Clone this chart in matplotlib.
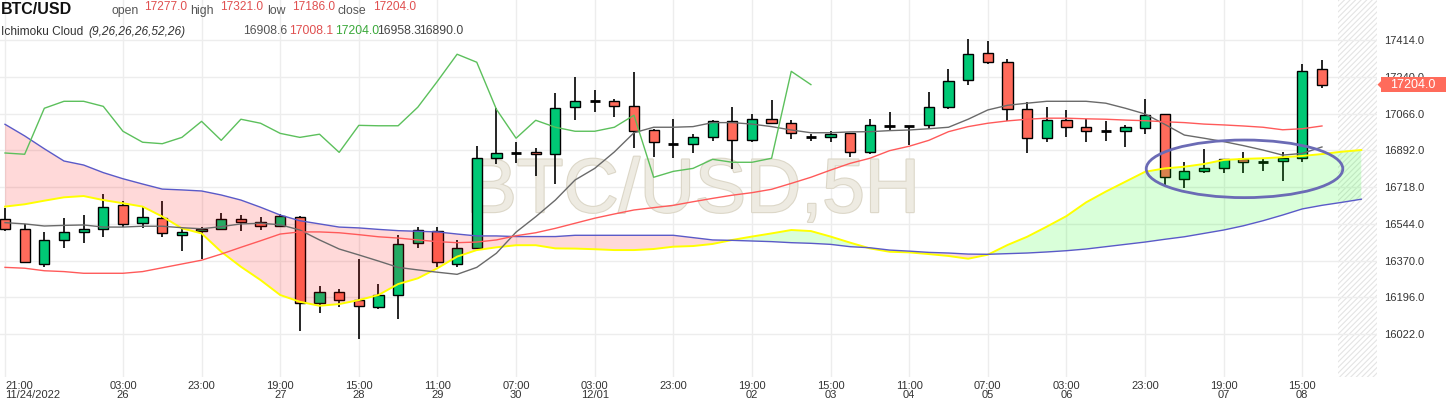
import numpy as np
import matplotlib
matplotlib.use("Agg")
import matplotlib.pyplot as plt
from matplotlib.patches import Ellipse, Rectangle, Polygon
import matplotlib.patheffects as pe

plt.rcParams['font.family'] = ['Liberation Sans', 'DejaVu Sans']
plt.rcParams['hatch.linewidth'] = 0.8

# ---------------- data ----------------
open_ = [16566, 16518, 16353, 16466, 16504, 16518, 16632, 16547, 16571, 16490,
         16509, 16518, 16566, 16552, 16533, 16575, 16168, 16220, 16183, 16149,
         16206, 16452, 16509, 16353, 16428, 16855, 16880, 16883, 16874, 17097,
         17125, 17125, 17101, 16988, 16924, 16921, 16954, 17030, 16940, 17040,
         17021, 16954, 16954, 16973, 16883, 17009, 17009, 17011, 17097, 17225,
         17352, 17310, 17087, 16950, 17035, 17002, 16983, 16983, 16997, 17063,
         16755, 16793, 16807, 16850, 16836, 16841, 16855, 17277]
high = [16621, 16544, 16507, 16571, 16585, 16687, 16654, 16626, 16652, 16531,
        16531, 16594, 16586, 16578, 16590, 16580, 16250, 16234, 16376, 16259,
        16490, 16531, 16531, 16468, 16915, 17095, 16934, 16902, 17163, 17239,
        17177, 17136, 17265, 16995, 17040, 16970, 17035, 17097, 17063, 17130,
        17035, 16970, 16984, 16976, 17040, 17073, 17009, 17168, 17277, 17419,
        17409, 17324, 17123, 17099, 17082, 17040, 17033, 17011, 17134, 17066,
        16839, 16898, 16852, 16886, 16850, 16883, 17300, 17321]
low = [16512, 16358, 16341, 16428, 16452, 16481, 16531, 16526, 16481, 16417,
       16379, 16515, 16512, 16515, 16531, 16038, 16123, 16152, 16000, 16141,
       16092, 16431, 16341, 16341, 16425, 16828, 16834, 16772, 16732, 17035,
       17076, 17052, 16905, 16862, 16858, 16881, 16938, 16803, 16934, 17016,
       16948, 16938, 16931, 16862, 16877, 16986, 16916, 16992, 17087, 17201,
       17300, 17032, 16879, 16931, 16957, 16931, 16935, 16910, 16969, 16728,
       16713, 16787, 16787, 16787, 16793, 16749, 16836, 17186]
close = [16518, 16362, 16466, 16504, 16518, 16626, 16542, 16575, 16500, 16504,
         16521, 16566, 16552, 16533, 16581, 16168, 16220, 16182, 16154, 16206,
         16447, 16514, 16365, 16428, 16855, 16879, 16880, 16874, 17092, 17125,
         17125, 17101, 16983, 16931, 16924, 16954, 17030, 16940, 17040, 17021,
         16973, 16954, 16969, 16883, 17011, 17009, 17009, 17097, 17220, 17348,
         17310, 17087, 16950, 17035, 17002, 16983, 16983, 17002, 17059, 16765,
         16793, 16807, 16850, 16836, 16836, 16855, 17267, 17204]

tenkan = [16550, 16544, 16534, 16537, 16539, 16529, 16529, 16533, 16533, 16526,
          16521, 16531, 16544, 16547, 16540, 16515, 16468, 16425, 16397, 16368,
          16338, 16326, 16315, 16305, 16338, 16405, 16505, 16578, 16657, 16752,
          16807, 16885, 16976, 17002, 17002, 17005, 17024, 17024, 17017, 17005,
          16989, 16976, 16976, 16980, 16981, 16986, 16989, 16995, 17002, 17040,
          17084, 17106, 17116, 17125, 17125, 17125, 17116, 17092, 17065, 17016,
          16965, 16950, 16934, 16915, 16894, 16870, 16878, 16908.6]
kijun = [16338, 16334, 16322, 16318, 16310, 16310, 16310, 16318, 16336, 16354,
         16372, 16401, 16433, 16464, 16496, 16506, 16506, 16502, 16493, 16483,
         16477, 16468, 16460, 16455, 16458, 16468, 16488, 16502, 16523, 16547,
         16571, 16591, 16610, 16621, 16632, 16649, 16665, 16680, 16692, 16708,
         16736, 16765, 16799, 16831, 16855, 16891, 16912, 16940, 16981, 17005,
         17021, 17032, 17040, 17045, 17045, 17042, 17040, 17036, 17033, 17028,
         17024, 17017, 17013, 17008, 17002, 16990, 16995, 17008.1]
senkou_a = [16626, 16637, 16654, 16670, 16676, 16657, 16642, 16626, 16579, 16523,
            16499, 16412, 16341, 16278, 16207, 16175, 16156, 16164, 16183, 16207,
            16259, 16286, 16334, 16389, 16420, 16433, 16443, 16443, 16428, 16427,
            16424, 16420, 16420, 16425, 16436, 16439, 16449, 16468, 16484, 16499,
            16515, 16510, 16484, 16455, 16428, 16412, 16409, 16401, 16392, 16379,
            16398, 16444, 16483, 16531, 16581, 16646, 16697, 16744, 16791, 16807,
            16815, 16828, 16847, 16852, 16855, 16860, 16866, 16875, 16886, 16894]
senkou_b = [17016, 16961, 16900, 16842, 16823, 16787, 16758, 16733, 16709, 16705,
            16700, 16681, 16657, 16623, 16586, 16559, 16544, 16529, 16525, 16518,
            16512, 16509, 16506, 16496, 16487, 16487, 16484, 16484, 16484, 16490,
            16490, 16490, 16490, 16490, 16490, 16479, 16468, 16466, 16463, 16460,
            16455, 16452, 16447, 16436, 16431, 16420, 16415, 16409, 16406, 16401,
            16400, 16403, 16406, 16411, 16417, 16425, 16436, 16447, 16458, 16471,
            16483, 16499, 16515, 16535, 16559, 16586, 16615, 16632, 16646, 16661]
chikou_shift = 26

tick_idx = [0, 6, 10, 14, 18, 22, 26, 30, 34, 38, 42, 46, 50, 54, 58, 62, 66]
tick_labels = ["21:00\n11/24/2022", "03:00\n26", "23:00", "19:00\n27", "15:00\n28",
               "11:00\n29", "07:00\n30", "03:00\n12/01", "23:00", "19:00\n02",
               "15:00\n03", "11:00\n04", "07:00\n05", "03:00\n06", "23:00",
               "19:00\n07", "15:00\n08"]
y_ticks = [16022, 16196, 16370, 16544, 16718, 16892, 17066, 17240, 17414]

legend_ohlc = [("open", "17277.0"), ("high", "17321.0"), ("low", "17186.0"), ("close", "17204.0")]
ichi_values = ["16908.6", "17008.1", "17204.0", "16958.3", "16890.0"]
last_price = 17204.0

# ---------------- styling ----------------
W, H = 1446, 404
GREEN = '#00c875'
RED = '#ff6b5b'
fig = plt.figure(figsize=(W / 100, H / 100), dpi=100)
ax = fig.add_axes([0, 27 / H, 1377 / W, 377 / H])

n = len(close)
x = np.arange(n)
xa = np.arange(len(senkou_a))
o = np.array(open_, float); c = np.array(close, float)
h = np.array(high, float); l = np.array(low, float)

ax.set_xlim(-0.255, 69.8)
ax.set_ylim(15818.5, 17605)

# grid / ticks
ax.set_xticks(tick_idx)
ax.set_xticklabels(tick_labels, fontsize=8, color='#333333', linespacing=0.9)
ax.get_xticklabels()[0].set_ha('left')
ax.set_yticks(y_ticks)
ax.set_yticklabels([f"{v:.1f}" for v in y_ticks], fontsize=8, color='#333333')
ax.yaxis.tick_right()
ax.tick_params(axis='both', length=0)
ax.tick_params(axis='x', pad=3)
ax.tick_params(axis='y', pad=5)
ax.grid(True, color='#ededed', linewidth=1, zorder=0)
ax.set_axisbelow(True)
for s in ax.spines.values():
    s.set_visible(False)

# future hatched area
ax.axvspan(67.8, 69.8, facecolor='none', edgecolor='#e4e4e4', hatch='//////', linewidth=0, zorder=0.5)

# watermark
ax.text(34.99, 16600, "BTC/USD,5H", fontsize=55, color='#eeebe2', ha='center', va='baseline',
        zorder=0.8, path_effects=[pe.withStroke(linewidth=1.6, foreground='#dcd7c8')])

# candles
ax.vlines(x, l, h, color='black', linewidth=1.2, zorder=2)
up = c > o
dn = c < o
eq = c == o
bw = 0.52
ax.bar(x[up], (c - o)[up], bottom=o[up], width=bw, color=GREEN, edgecolor='black', linewidth=1, zorder=3)
ax.bar(x[dn], (o - c)[dn], bottom=c[dn], width=bw, color=RED, edgecolor='black', linewidth=1, zorder=3)
ax.hlines(o[eq], x[eq] - bw / 2, x[eq] + bw / 2, color='black', linewidth=2, zorder=3)

# cloud
sa = np.array(senkou_a, float); sb = np.array(senkou_b, float)
ax.fill_between(xa, sa, sb, where=sa >= sb, interpolate=True, color='#00ff00', alpha=0.15, linewidth=0, zorder=4)
ax.fill_between(xa, sa, sb, where=sa < sb, interpolate=True, color='#ff0000', alpha=0.15, linewidth=0, zorder=4)
ax.plot(xa, sa, color='#ffff00', linewidth=1.4, zorder=5)
ax.plot(xa, sb, color='#5a5ac8', linewidth=1.0, zorder=5)

# tenkan / kijun / chikou
ax.plot(x, tenkan, color='#6a6a6a', linewidth=1.0, zorder=5)
ax.plot(x, kijun, color='#ff5a5a', linewidth=1.0, zorder=5)
ax.plot(x[:n - chikou_shift], c[chikou_shift:], color='#5cc05c', linewidth=1.0, zorder=5)

# annotation ellipse
ax.add_patch(Ellipse((63.06, 16805), width=10.0, height=273, fill=False,
                     edgecolor='#6b6bb5', linewidth=2, zorder=6))

# last price tag (figure pixel coords)
def fx(px):
    return px / W
def fy(py):
    return 1 - py / H
ypix = (17605 - last_price) / 4.7386
tag_h = 15
fig.patches.append(Rectangle((fx(1381), fy(ypix + tag_h / 2)), fx(65), tag_h / H,
                             transform=fig.transFigure, facecolor=RED, edgecolor='none', zorder=10))
fig.patches.append(Polygon([(fx(1377.5), fy(ypix)), (fx(1381.5), fy(ypix - 4)), (fx(1381.5), fy(ypix + 4))],
                           closed=True, transform=fig.transFigure, facecolor=RED, edgecolor='none', zorder=10))
fig.text(fx(1413), fy(ypix), f"{last_price:.1f}", color='white', fontsize=9, ha='center', va='center', zorder=11)

# header
fig.text(fx(1), fy(14.5), "BTC/USD", fontsize=11.5, fontweight='bold', color='#111111', va='baseline')
lab_x = [111, 190, 267, 338]
val_x = [144, 220, 292, 373]
for (lab, val), lx, vx in zip(legend_ohlc, lab_x, val_x):
    fig.text(fx(lx), fy(14), lab, fontsize=8.8, color='#555555', va='baseline')
    fig.text(fx(vx), fy(10.5), val, fontsize=8.6, color='#e05050', va='baseline')

fig.text(fx(1), fy(35), "Ichimoku Cloud", fontsize=8.6, color='#333333', va='baseline')
fig.text(fx(88), fy(35), "(9,26,26,26,52,26)", fontsize=8.6, color='#333333', style='italic', va='baseline')
ichi_x = [243, 289, 335, 377, 419]
ichi_c = ['#555555', '#e05050', '#3aa83a', '#444444', '#444444']
for v, vx, col in zip(ichi_values, ichi_x, ichi_c):
    fig.text(fx(vx), fy(34.5), v, fontsize=8.8, color=col, va='baseline')

fig.savefig("out.png", dpi=100, facecolor='white')
